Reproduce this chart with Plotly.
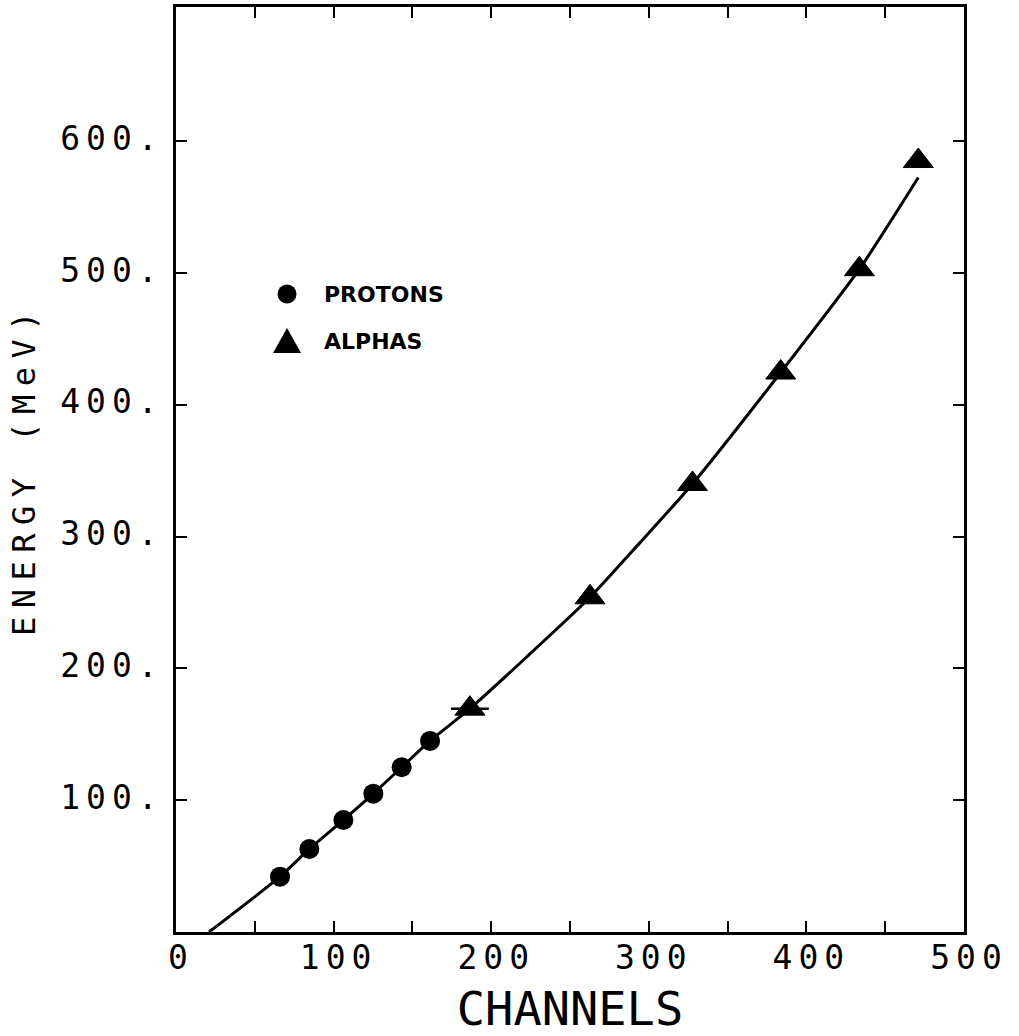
import plotly.graph_objects as go

# Calibration points (channel number vs. particle energy)
proton_channels = [66.0, 84.6, 106.2, 125.2, 143.2, 161.2]
proton_energy = [42, 63, 85, 105, 125, 145]

alpha_channels = [186.5, 262.7, 327.7, 383.7, 433.6, 471.0]
alpha_energy = [169.5, 254.0, 340.0, 424.6, 503.0, 585.1]
alpha_channel_err = [12.0, 0, 0, 0, 0, 0]

# Smooth calibration curve
curve_channels = [20.9, 66.0, 84.6, 106.2, 125.2, 143.2, 161.2, 186.5,
                  222.5, 262.7, 294.4, 327.7, 383.7, 433.6, 471.0]
curve_energy = [0, 42, 63, 85, 105, 125, 145, 169.5,
                208.7, 254.0, 295.5, 340.0, 424.6, 503.0, 572.6]

x_tick_vals = [0, 100, 200, 300, 400, 500]
x_tick_text = ["0", "100", "200", "300", "400", "500"]
y_tick_vals = [100, 200, 300, 400, 500, 600]
y_tick_text = ["100.", "200.", "300.", "400.", "500.", "600."]

x_title = "CHANNELS"
y_title = "ENERGY (MeV)"
legend_labels = ["PROTONS", "ALPHAS"]

INK = "black"
MONO = "DejaVu Sans Mono"


def spaced(text, px):
    """Widen the plotter-style lettering with extra tracking."""
    return f'<span style="letter-spacing:{px}px">{text}</span>'


fig = go.Figure()

fig.add_trace(go.Scatter(
    x=curve_channels, y=curve_energy, mode="lines",
    line=dict(color=INK, width=3, shape="spline", smoothing=0.6),
    hoverinfo="skip",
))

fig.add_trace(go.Scatter(
    x=proton_channels, y=proton_energy, mode="markers", name=legend_labels[0],
    marker=dict(symbol="circle", size=20, color=INK),
))

fig.add_trace(go.Scatter(
    x=alpha_channels, y=alpha_energy, mode="markers", name=legend_labels[1],
    marker=dict(symbol="triangle-up", size=26, color=INK, line=dict(color=INK, width=1)),
    error_x=dict(type="data", array=alpha_channel_err, color=INK, thickness=2.5, width=0),
))

axis_common = dict(
    showline=True, linecolor=INK, linewidth=2.5, mirror="ticks",
    ticks="inside", ticklen=11, tickwidth=2, tickcolor=INK,
    showgrid=False, zeroline=False, automargin=False,
    tickfont=dict(family=MONO, size=33, color=INK),
)

fig.update_xaxes(
    range=[0, 500], tickmode="array", tickvals=x_tick_vals,
    ticktext=[spaced(t, 6) for t in x_tick_text],
    minor=dict(dtick=50, tick0=0, ticks="inside", ticklen=11, tickwidth=2,
               tickcolor=INK, showgrid=False),
    ticklabelstandoff=-5, ticklabelshift=5,
    title=dict(text=x_title, font=dict(family=MONO, size=47, color=INK), standoff=21),
    **axis_common,
)
fig.update_yaxes(
    range=[0, 702], tickmode="array", tickvals=y_tick_vals,
    ticktext=[spaced(t, 6) for t in y_tick_text],
    ticklabelstandoff=3, ticklabelshift=-3,
    title=dict(text=spaced(y_title, 8.5), font=dict(family=MONO, size=32, color=INK), standoff=15),
    **axis_common,
)

# Key drawn inside the plot area
key_x = 0.1409
key_rows = [0.6897, 0.6389]
fig.add_shape(type="circle", xref="paper", yref="paper",
              xsizemode="pixel", ysizemode="pixel",
              xanchor=key_x, yanchor=key_rows[0],
              x0=-9.5, x1=9.5, y0=-9.5, y1=9.5,
              fillcolor=INK, line=dict(color=INK, width=0))
fig.add_shape(type="path", xref="paper", yref="paper",
              xsizemode="pixel", ysizemode="pixel",
              xanchor=key_x, yanchor=key_rows[1],
              path="M-14,-12 L14,-12 L0,13 Z",
              fillcolor=INK, line=dict(color=INK, width=0))
for label, row in zip(legend_labels, key_rows):
    fig.add_annotation(xref="paper", yref="paper", x=0.185, y=row,
                       text=label, showarrow=False, xanchor="left", yanchor="middle",
                       font=dict(family="DejaVu Sans", size=22, color=INK, weight="bold"))

fig.update_layout(
    width=1019, height=1036,
    margin=dict(l=176, r=55, t=7, b=104, pad=0),
    plot_bgcolor="white", paper_bgcolor="white",
    showlegend=False,
)

fig.write_html("out.html")
